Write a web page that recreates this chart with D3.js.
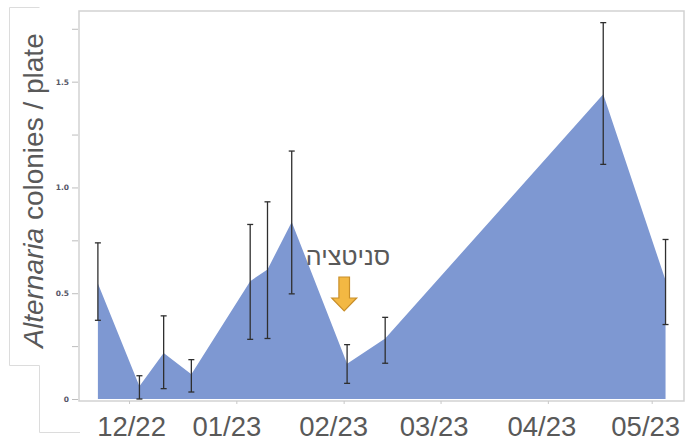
<!DOCTYPE html>
<html><head><meta charset="utf-8">
<script src="https://cdn.jsdelivr.net/npm/d3@7"></script>
<style>body{margin:0;background:#fff}svg{display:block}</style>
</head><body>
<svg id="c" width="687" height="442"></svg>
<script>
const dates = ["2022-11-22","2022-12-04","2022-12-11","2022-12-19","2023-01-05","2023-01-10","2023-01-17","2023-02-02","2023-02-13","2023-04-17","2023-05-05"];
const means = [0.546,0.06,0.218,0.117,0.557,0.612,0.837,0.167,0.286,1.44,0.561];
const lower = [0.372,0.0,0.049,0.033,0.282,0.286,0.497,0.074,0.169,1.109,0.352];
const upper = [0.738,0.11,0.393,0.186,0.825,0.932,1.172,0.257,0.386,1.779,0.754];
const xTickDates = ["2022-12-01","2023-01-01","2023-02-01","2023-03-01","2023-04-01","2023-05-01"];
const xTickLabels = ["12/22","01/23","02/23","03/23","04/23","05/23"];
const yTickValues = [0,0.25,0.5,0.75,1.0,1.25,1.5,1.75];
const yTickLabels = ["0","","0.5","","1.0","","1.5",""];
const annotation = "סניטציה";

// styling: horizontal nudge of the overlaid month labels (px)
const xLabelNudge = [2,-10,-10.5,-7,-6.5,-6.5];

const parse = d3.utcParse("%Y-%m-%d");
const data = dates.map((d,i)=>({date:parse(d), v:means[i], lo:lower[i], hi:upper[i]}));

const svg = d3.select("#c");
const L=79, R=684, T=11, B=401;
const x = d3.scaleUtc().domain([new Date(Date.UTC(2022,10,16,13)), new Date(Date.UTC(2023,4,10,8))]).range([L,R]);
const y = d3.scaleLinear().domain([0,1.834]).range([399,T]);

// y-title textbox artifacts
const boxC="#dcdcdc";
svg.append("path").attr("d","M9.5,7.5H39.5M9.5,7.5V365.5H39.5V432.5H80").attr("fill","none").attr("stroke",boxC).attr("stroke-width",1);

// frame
svg.append("rect").attr("x",L).attr("y",T).attr("width",R-L).attr("height",B-T)
  .attr("fill","#fff").attr("stroke","#d2d2d2").attr("stroke-width",1.5);

// area
const area = d3.area().x(d=>x(d.date)).y0(y(0)).y1(d=>y(d.v));
svg.append("path").datum(data).attr("d",area).attr("fill","#7e98d2");

// error bars
const eb = svg.append("g").attr("stroke","#2f2f2f").attr("stroke-width",1.3);
data.forEach(d=>{
  const cx=x(d.date);
  eb.append("line").attr("x1",cx).attr("x2",cx).attr("y1",y(d.lo)).attr("y2",y(d.hi));
  eb.append("line").attr("x1",cx-3).attr("x2",cx+3).attr("y1",y(d.lo)).attr("y2",y(d.lo));
  eb.append("line").attr("x1",cx-3).attr("x2",cx+3).attr("y1",y(d.hi)).attr("y2",y(d.hi));
});

// y axis
const yAxis = d3.axisLeft(y).tickValues(yTickValues).tickSize(6).tickPadding(3)
  .tickFormat((d,i)=>yTickLabels[i]);
const gy = svg.append("g").attr("transform",`translate(${L-1},0)`).call(yAxis);
gy.select(".domain").remove();
gy.selectAll(".tick line").attr("stroke","#bdbdbd");
gy.selectAll(".tick text").attr("fill","#556").style("font-family","'DejaVu Sans', sans-serif").style("font-size","7.5px").style("font-weight","bold");

// x axis
const xAxis = d3.axisBottom(x).tickValues(xTickDates.map(parse)).tickSize(3).tickPadding(15)
  .tickFormat((d,i)=>xTickLabels[i]);
const gx = svg.append("g").attr("transform",`translate(0,${B})`).call(xAxis);
gx.select(".domain").remove();
gx.selectAll(".tick line").attr("stroke","#c8c8c8");
gx.selectAll(".tick text").attr("fill","#595959").attr("dy","0").attr("y",35)
  .attr("x",(d,i)=>xLabelNudge[i])
  .style("font-family","'Liberation Sans', Arial, sans-serif").style("font-size","27.5px");

// y title
const yt = svg.append("text").attr("transform","translate(43,190.5) rotate(-90)")
  .attr("text-anchor","middle").attr("fill","#595959")
  .style("font-family","'Liberation Sans', Arial, sans-serif").style("font-size","28px");
yt.append("tspan").style("font-style","italic").text("Alternaria");
yt.append("tspan").text(" colonies / plate");

// annotation
svg.append("text").attr("x",348).attr("y",265).attr("text-anchor","middle")
  .attr("fill","#595959").style("font-family","'Liberation Sans', Arial, sans-serif").style("font-size","25px")
  .attr("direction","rtl").text(annotation);

// arrow (down)
const ax=344.2, at=277, ah=298, ab=311, sw=5.3, hw=12.5;
svg.append("path").attr("d",`M${ax-sw},${at}H${ax+sw}V${ah}H${ax+hw}L${ax},${ab}L${ax-hw},${ah}H${ax-sw}Z`)
  .attr("fill","#f3b843").attr("stroke","#c98f2a").attr("stroke-width",1.2);
</script>
</body></html>
